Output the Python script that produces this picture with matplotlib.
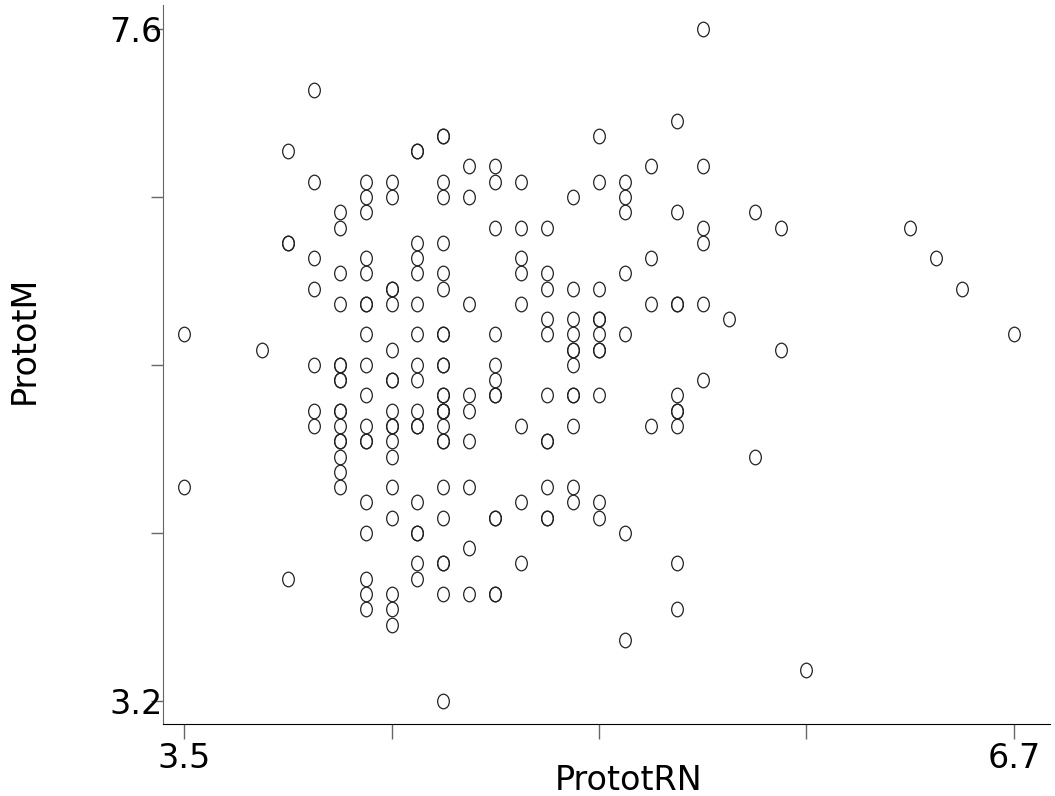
import matplotlib
matplotlib.use('Agg')
import matplotlib.pyplot as plt
from matplotlib.path import Path
from matplotlib.transforms import Affine2D

# PrototRN values (x) and the PrototM values (y) observed at each of them
rn_levels = [3.5, 3.8, 3.9, 4.0, 4.1, 4.2, 4.3, 4.4, 4.5, 4.6, 4.7, 4.8, 4.9,
             5.0, 5.1, 5.2, 5.3, 5.4, 5.5, 5.6, 5.7, 5.8, 5.9, 6.3, 6.4, 6.5, 6.7]
m_at_level = [
    [5.6, 4.6],
    [5.5],
    [6.8, 6.2, 6.2, 4.0],
    [7.2, 6.6, 6.1, 5.9, 5.4, 5.1, 5.0],
    [6.4, 6.3, 6.0, 5.8, 5.4, 5.4, 5.3, 5.3, 5.1, 5.1, 5.0, 4.9, 4.9, 4.8, 4.7, 4.6],
    [6.6, 6.5, 6.4, 6.1, 6.0, 5.8, 5.8, 5.6, 5.4, 5.2, 5.0, 4.9, 4.9, 4.5, 4.3,
     4.0, 3.9, 3.8],
    [6.6, 6.5, 5.9, 5.9, 5.8, 5.5, 5.3, 5.3, 5.1, 5.0, 5.0, 4.9, 4.8, 4.6, 4.4,
     3.9, 3.8, 3.7],
    [6.8, 6.8, 6.2, 6.1, 6.0, 5.8, 5.6, 5.4, 5.3, 5.1, 5.0, 5.0, 4.5, 4.3, 4.3,
     4.1, 4.0],
    [6.9, 6.9, 6.6, 6.5, 6.2, 6.0, 5.9, 5.6, 5.6, 5.4, 5.4, 5.2, 5.2, 5.1, 5.1,
     5.1, 5.0, 4.9, 4.9, 4.6, 4.4, 4.1, 4.1, 3.9, 3.2],
    [6.7, 6.5, 5.8, 5.2, 5.1, 4.9, 4.6, 4.2, 3.9],
    [6.7, 6.6, 6.3, 5.6, 5.4, 5.3, 5.2, 5.2, 4.4, 4.4, 3.9, 3.9],
    [6.6, 6.3, 6.1, 6.0, 5.8, 5.0, 4.5, 4.1],
    [6.3, 6.0, 5.9, 5.7, 5.6, 5.2, 4.9, 4.9, 4.6, 4.4, 4.4],
    [6.5, 5.9, 5.7, 5.6, 5.5, 5.5, 5.4, 5.2, 5.2, 5.0, 4.6, 4.5],
    [6.9, 6.6, 5.9, 5.7, 5.7, 5.6, 5.5, 5.5, 5.2, 4.5, 4.4],
    [6.6, 6.5, 6.4, 6.0, 5.6, 4.3, 3.6],
    [6.7, 6.1, 5.8, 5.0],
    [7.0, 6.4, 5.8, 5.8, 5.2, 5.1, 5.1, 5.0, 4.1, 3.8],
    [7.6, 6.7, 6.3, 6.2, 5.8, 5.3],
    [5.7],
    [6.4, 4.8],
    [6.3, 5.5],
    [3.4],
    [6.3],
    [6.1],
    [5.9],
    [5.6],
]

x_ticks = [3.5, 4.3, 5.1, 5.9, 6.7]
x_ticklabels = ['3.5', '', '', '', '6.7']
y_ticks = [3.2, 4.3, 5.4, 6.5, 7.6]
y_ticklabels = ['3.2', '', '', '', '7.6']

prot_rn = []
prot_m = []
for rn, ms in zip(rn_levels, m_at_level):
    for m in ms:
        prot_rn.append(rn)
        prot_m.append(m)

plt.rcParams['font.family'] = 'DejaVu Sans'

fig = plt.figure(figsize=(10.55, 7.96), dpi=100)
ax = fig.add_axes([0.1545, 0.0905, 0.8408, 0.9032])

# letter-O like marker: slightly narrow ellipse
o_marker = Path.unit_circle().transformed(Affine2D().scale(0.8, 1.0))
ax.plot(prot_rn, prot_m, linestyle='none', marker=o_marker, markersize=10.5,
        markerfacecolor='none', markeredgecolor='#222222', markeredgewidth=0.9)

ax.set_xlim(3.419, 6.839)
ax.set_ylim(3.049, 7.757)

ax.spines['top'].set_visible(False)
ax.spines['right'].set_visible(False)
ax.spines['left'].set_color('#666666')
ax.spines['bottom'].set_color('black')

ax.set_xticks(x_ticks)
ax.set_xticklabels(x_ticklabels)
ax.set_yticks(y_ticks)
ax.set_yticklabels(y_ticklabels)
ax.tick_params(axis='x', direction='out', length=11, width=1, color='#666666',
               labelsize=24, pad=2)
ax.tick_params(axis='y', direction='out', length=9, width=1, color='#666666',
               labelsize=24, pad=-9)

ax.set_xlabel('PrototRN', fontsize=24)
ax.xaxis.set_label_coords((629 - 163) / 887, -0.055)
ax.set_ylabel('PrototM', fontsize=24)
ax.yaxis.set_label_coords(-0.138, 0.534)

fig.savefig('out.png', dpi=100)
